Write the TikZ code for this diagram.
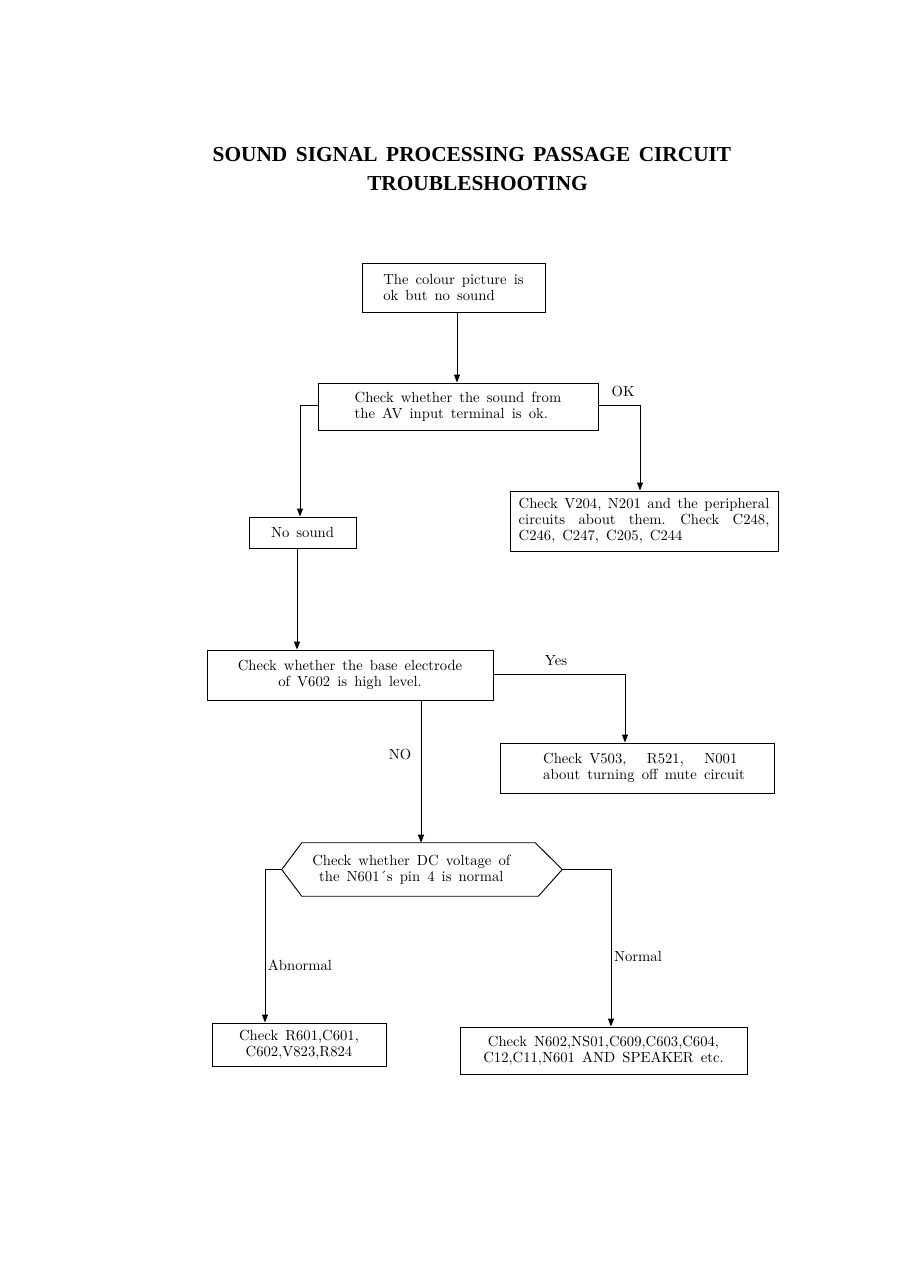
\documentclass[tikz,border=0pt]{standalone}
\usepackage{fontspec}
\newfontfamily\myTitle{Liberation Serif}
\newfontfamily\myBodyFam{Latin Modern Roman}[WordSpace={1.45,1.6,1}]
\usetikzlibrary{arrows.meta,calc}
\newcommand\myBody{\myBodyFam\fontsize{11}{12}\selectfont}
\newcommand\myHead{\myTitle\bfseries\fontsize{16}{20}\selectfont\spaceskip=0.4em\relax}
\begin{document}
\begin{tikzpicture}[x=0.75pt,y=-0.75pt,
  box/.style={draw, line width=0.7pt, inner sep=0pt, font=\myBody},
  arr/.style={line width=0.7pt, -{Triangle[length=6pt,width=4.5pt]}},
  lbl/.style={font=\myBody, inner sep=0pt}]
\useasboundingbox (0,0) rectangle (899,1263);
\fill[white] (0,0) rectangle (899,1263);

\node[font=\myHead, inner sep=0pt] (t1) at (472,154.5) {SOUND SIGNAL PROCESSING PASSAGE CIRCUIT};
\node[font=\myHead, inner sep=0pt] (t2) at (477.5,184) {TROUBLESHOOTING};

\node[box, minimum width=137.25pt, minimum height=36.75pt, align=left] (start) at (453.5,287.5) {The colour picture is\\ ok but no sound};
\node[box, minimum width=210pt, minimum height=35.25pt, align=left] (av) at (458,406.5) {Check whether the sound from\\ the AV input terminal is ok.};
\node[box, minimum width=201pt, minimum height=45pt, text width=188pt, align=justify] (periph) at (644,521) {Check V204, N201 and the peripheral\linebreak circuits about them.\quad Check C248,\linebreak C246, C247, C205, C244};
\node[box, minimum width=80.25pt, minimum height=23.25pt] (nosound) at (302.5,532.5) {No sound};
\node[box, minimum width=214.5pt, minimum height=37.5pt, align=center] (base) at (350,675) {Check whether the base electrode\\ of V602 is high level.};
\node[box, minimum width=205.5pt, minimum height=37.5pt, align=left] (mute) at (637,768) {\hspace*{10.5pt}Check V503,\hspace{1.4em}R521,\hspace{1.4em}N001\\ \hspace*{10.5pt}about turning off mute circuit};
\node[minimum width=210pt, minimum height=39.75pt, inner sep=0pt, font=\myBody, align=center] (dc) at (422,869.5) {Check whether DC voltage of\hspace*{16pt}\\ the N601´s pin 4 is normal\hspace*{16pt}};
\draw[line width=0.7pt] (dc.west) -- ($(dc.north west)+(20,0)$) -- ($(dc.north east)+(-27,0)$) -- (dc.east) -- ($(dc.south east)+(-24,0)$) -- ($(dc.south west)+(20,0)$) -- cycle;
\node[box, minimum width=130.5pt, minimum height=32.25pt, align=center] (r601) at (299,1044.5) {Check R601,C601,\\ C602,V823,R824};
\node[box, minimum width=215.25pt, minimum height=35.25pt, align=center] (n602) at (603.5,1050.5) {Check N602,NS01,C609,C603,C604,\\ C12,C11,N601 AND SPEAKER etc.};

\draw[arr] ($(start.south)+(3.5,0)$) -- ($(start.south |- av.north)+(3.5,0)$);
\draw[arr] ($(av.west)+(0,-1.5)$) -| ($(nosound.north)+(-2.5,0)$);
\draw[arr] ($(av.east)+(0,-1.5)$) -| ($(periph.north)+(-4,0)$);
\draw[arr] ($(nosound.south)+(-5.5,0)$) -- ($(nosound.south |- base.north)+(-5.5,0)$);
\draw[arr] ($(base.east)+(0,-1)$) -| ($(mute.north)+(-12,0)$);
\draw[arr] ($(base.south)+(71,0)$) -- ($(base.south |- dc.north)+(71,0)$);
\draw[arr] (dc.west) -| ($(r601.north)+(-34,0)$);
\draw[arr] (dc.east) -| ($(n602.north)+(7.5,0)$);

\node[lbl] (ok) at (623,391) {OK};
\node[lbl] (yes) at (556,661) {Yes};
\node[lbl] (no) at (400,754) {NO};
\node[lbl] (abn) at (300,965) {Abnormal};
\node[lbl] (nor) at (638,956) {Normal};
\end{tikzpicture}
\end{document}
